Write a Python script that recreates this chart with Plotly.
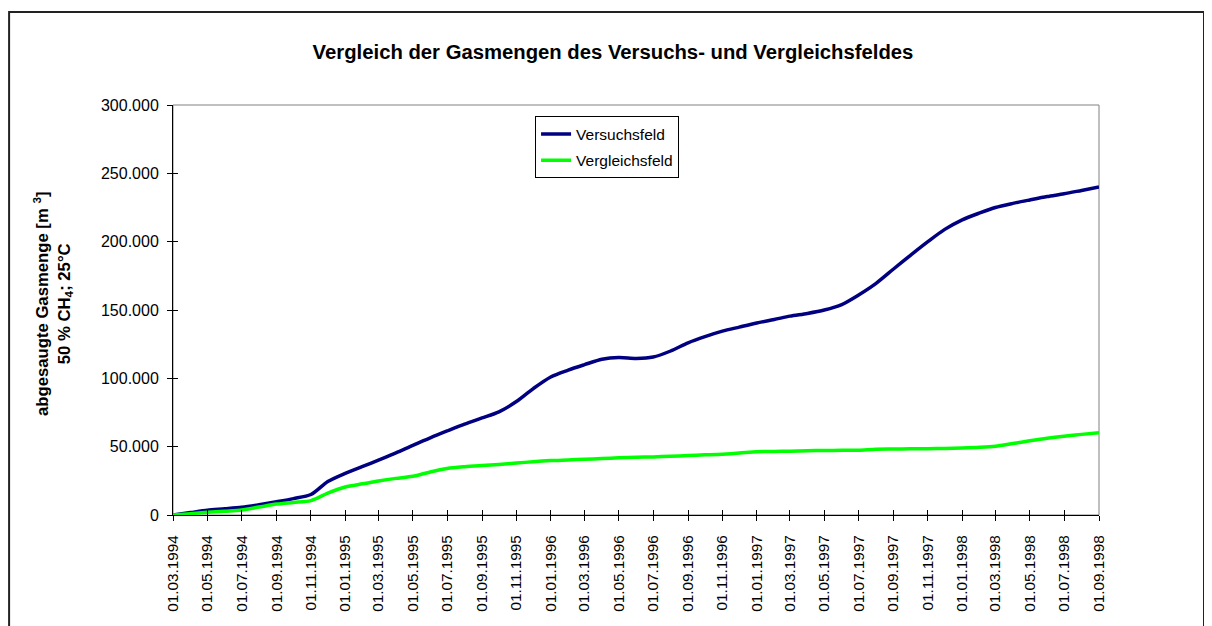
import pandas as pd
import plotly.graph_objects as go

# monthly readings, 01.03.1994 .. 01.09.1998
dates = pd.date_range("1994-03-01", "1998-09-01", freq="MS")

# Versuchsfeld, cumulative extracted gas [m3]
versuchsfeld = [
    0, 1800, 3500, 4500, 5600, 7500, 9700, 12000, 15000, 24500,
    30500, 35500, 40200, 45500, 51000, 56500, 61500, 66500, 71000, 75500,
    83000, 92500, 101000, 106000, 110000, 114000, 115300, 114600, 115600, 120000,
    126000, 130500, 134500, 137500, 140500, 143000, 145500, 147500, 150000, 154000,
    161000, 169500, 180000, 190000, 200000, 209000, 216000, 221000, 225000, 228000,
    230500, 233000, 235000, 237500, 240000,
]

# Vergleichsfeld, cumulative extracted gas [m3]
vergleichsfeld = [
    0, 1000, 2000, 2800, 3600, 5800, 8000, 9200, 10500, 16000,
    20500, 22800, 24900, 26800, 28300, 31500, 34000, 35300, 36200, 37000,
    38000, 39000, 39800, 40300, 40800, 41300, 41800, 42300, 42500, 43000,
    43500, 44000, 44500, 45300, 46300, 46500, 46700, 47000, 47200, 47300,
    47400, 48200, 48300, 48400, 48500, 48700, 49000, 49500, 50300, 52300,
    54300, 56200, 57700, 59000, 60200,
]

font_family = "Liberation Sans, Arial, sans-serif"

fig = go.Figure()
fig.add_trace(go.Scatter(x=dates, y=versuchsfeld, mode="lines", name="Versuchsfeld",
                         legendgroup="a",
                         line=dict(color="#000080", width=3.5, shape="spline", smoothing=0.8)))
# second trace sits on the overlay axes so the inner tick marks get drawn
fig.add_trace(go.Scatter(x=dates, y=vergleichsfeld, mode="lines", name="Vergleichsfeld",
                         legendgroup="b", xaxis="x2", yaxis="y2",
                         line=dict(color="#00FF00", width=3.5, shape="spline", smoothing=0.8)))

# page body has an 8px margin, so the figure is 8px smaller and margins shifted
fig.update_layout(
    width=1204, height=618,
    margin=dict(l=165, r=113, t=97, b=111),
    paper_bgcolor="white", plot_bgcolor="white",
    separators=",.",
    font=dict(family=font_family, size=15, color="black"),
    title=dict(text="<b>Vergleich der Gasmengen des Versuchs- und Vergleichsfeldes</b>",
               x=0.5025, xanchor="center", y=0.929, yanchor="middle",
               font=dict(family=font_family, size=20.3, color="black")),
    showlegend=True,
    legend=dict(x=0.391, y=0.972, xanchor="left", yanchor="top",
                bordercolor="black", borderwidth=1, bgcolor="white",
                font=dict(family=font_family, size=15.5, color="black"),
                tracegroupgap=3),
    xaxis=dict(type="date", range=["1994-03-01", "1998-09-01"],
               tick0="1994-03-01", dtick="M2", tickformat="%d.%m.%Y", tickangle=-90,
               ticks="outside", ticklen=5, tickcolor="black", tickwidth=1,
               ticklabelstandoff=8,
               showline=True, linecolor="black", linewidth=1,
               showgrid=False, zeroline=False,
               tickfont=dict(family=font_family, size=15.3, color="black")),
    yaxis=dict(range=[0, 300000], dtick=50000, tickformat=",d",
               ticks="outside", ticklen=5, tickcolor="black", tickwidth=1,
               ticklabelstandoff=5,
               showline=True, linecolor="black", linewidth=1,
               showgrid=False, zeroline=False,
               tickfont=dict(family=font_family, size=16, color="black")),
    xaxis2=dict(type="date", matches="x", overlaying="x", anchor="y2",
                tick0="1994-03-01", dtick="M2", ticks="inside", ticklen=5,
                tickcolor="black", showticklabels=False, showgrid=False,
                zeroline=False, showline=False),
    yaxis2=dict(matches="y", overlaying="y", anchor="x2", side="left", dtick=50000,
                ticks="inside", ticklen=5, tickcolor="black", showticklabels=False,
                showgrid=False, zeroline=False, showline=False),
)

# two-line y axis title
fig.add_annotation(
    text="<b>abgesaugte Gasmenge [m <sup>3</sup>]</b><br><b>50 % CH<sub>4</sub>; 25°C</b>",
    xref="paper", yref="paper", x=-0.1307, y=0.5146,
    xanchor="center", yanchor="middle", textangle=-90, showarrow=False,
    font=dict(family=font_family, size=16.7, color="black"))

# grey plot area border (top/right) and black outer chart frame
fig.add_shape(type="rect", xref="paper", yref="paper", x0=0, x1=1, y0=0, y1=1,
              line=dict(color="#808080", width=1), layer="below")
fig.add_shape(type="rect", xref="paper", yref="paper", x0=-0.177, x1=1.1134,
              y0=-0.32, y1=1.2268, line=dict(color="#222222", width=2))

fig.write_html("out.html")
